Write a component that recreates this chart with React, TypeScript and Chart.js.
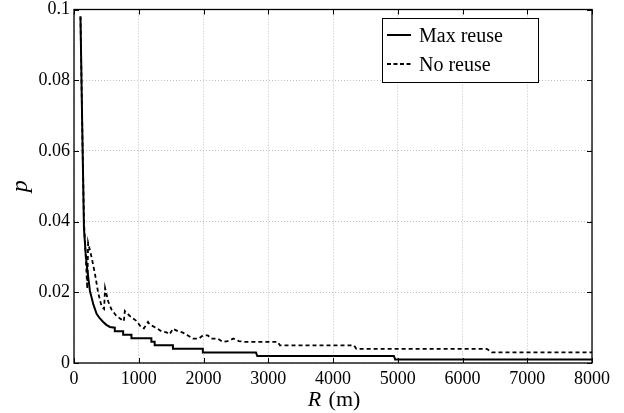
import React, { useEffect, useRef } from "react";
import { Chart, registerables } from "chart.js";

Chart.register(...registerables);

// Max reuse (solid)
const maxReuseR = [100, 128, 154, 180, 195, 246, 300, 349, 400, 451, 500, 554, 630, 630, 759, 759, 887, 887, 1195, 1195, 1246, 1246, 1528, 1528, 1990, 1990, 2810, 2830, 4940, 4960, 8000];
const maxReuseP = [0.098, 0.066, 0.038, 0.031, 0.028, 0.0204, 0.0165, 0.0139, 0.0126, 0.0116, 0.0108, 0.0102, 0.0100, 0.009, 0.009, 0.008, 0.008, 0.007, 0.007, 0.006, 0.006, 0.005, 0.005, 0.004, 0.004, 0.003, 0.003, 0.002, 0.002, 0.001, 0.001];

// No reuse (dashed)
const noReuseR = [100, 128, 154, 170, 185, 205, 218, 272, 323, 374, 426, 465, 480, 528, 580, 656, 733, 770, 785, 862, 964, 1041, 1080, 1143, 1169, 1272, 1349, 1426, 1477, 1528, 1605, 1682, 1759, 1836, 1928, 1990, 2067, 2118, 2220, 2297, 2374, 2462, 2543, 2631, 3143, 3180, 4323, 4360, 6374, 6450, 8000];
const noReuseP = [0.098, 0.066, 0.040, 0.034, 0.029, 0.021, 0.034, 0.0299, 0.0253, 0.0198, 0.016, 0.0153, 0.0212, 0.0174, 0.0151, 0.0133, 0.0123, 0.0118, 0.0147, 0.0133, 0.0119, 0.01, 0.0098, 0.0116, 0.0109, 0.0099, 0.009, 0.0087, 0.0081, 0.0097, 0.009, 0.0086, 0.0078, 0.0069, 0.0069, 0.0078, 0.0078, 0.0069, 0.0069, 0.006, 0.0062, 0.0069, 0.0062, 0.006, 0.006, 0.005, 0.005, 0.004, 0.004, 0.003, 0.003];

const xTicks = [0, 1000, 2000, 3000, 4000, 5000, 6000, 7000, 8000];
const yTicks = [0, 0.02, 0.04, 0.06, 0.08, 0.1];
const seriesNames = ["Max reuse", "No reuse"];

const SERIF = "'Liberation Serif', 'Times New Roman', serif";

const decorPlugin = {
  id: "decor",
  afterDraw(chart: any) {
    const { ctx, chartArea } = chart;
    const { left, right, top, bottom } = chartArea;
    const xs = chart.scales.x;
    const ys = chart.scales.y;
    ctx.save();
    // frame
    ctx.strokeStyle = "#000";
    ctx.lineWidth = 1.3;
    ctx.setLineDash([]);
    ctx.strokeRect(left, top, right - left, bottom - top);
    // inner ticks
    ctx.lineWidth = 1;
    ctx.beginPath();
    xTicks.forEach((v) => {
      const px = Math.round(xs.getPixelForValue(v)) + 0.5;
      ctx.moveTo(px, bottom);
      ctx.lineTo(px, bottom - 5);
      ctx.moveTo(px, top);
      ctx.lineTo(px, top + 5);
    });
    yTicks.forEach((v) => {
      const py = Math.round(ys.getPixelForValue(v)) + 0.5;
      ctx.moveTo(left, py);
      ctx.lineTo(left + 5, py);
      ctx.moveTo(right, py);
      ctx.lineTo(right - 5, py);
    });
    ctx.stroke();

    // axis titles
    ctx.fillStyle = "#000";
    ctx.textBaseline = "alphabetic";
    ctx.font = `italic 22px ${SERIF}`;
    const rW = ctx.measureText("R").width;
    ctx.font = `22px ${SERIF}`;
    const mW = ctx.measureText(" (m)").width;
    const cx = (left + right) / 2 + 0;
    const startX = cx - (rW + mW) / 2;
    ctx.font = `italic 22px ${SERIF}`;
    ctx.textAlign = "left";
    ctx.fillText("R", startX, 406);
    ctx.font = `22px ${SERIF}`;
    ctx.fillText(" (m)", startX + rW + 2, 406);

    ctx.save();
    ctx.translate(27, (top + bottom) / 2);
    ctx.rotate(-Math.PI / 2);
    ctx.font = `italic 24px ${SERIF}`;
    ctx.textAlign = "center";
    ctx.fillText("p", 0, 0);
    ctx.restore();

    // legend
    const lx = 382, ly = 18, lw = 156, lh = 64;
    ctx.fillStyle = "#fff";
    ctx.fillRect(lx, ly, lw, lh);
    ctx.strokeStyle = "#000";
    ctx.lineWidth = 1;
    ctx.strokeRect(lx + 0.5, ly + 0.5, lw, lh);
    ctx.font = `20px ${SERIF}`;
    ctx.fillStyle = "#000";
    ctx.textAlign = "left";
    const rows = [35, 64];
    const dashes = [[], [4, 2.5]];
    rows.forEach((y, i) => {
      ctx.beginPath();
      ctx.setLineDash(dashes[i]);
      ctx.lineWidth = i === 0 ? 2 : 1.8;
      ctx.moveTo(387, y);
      ctx.lineTo(411, y);
      ctx.stroke();
      ctx.setLineDash([]);
      ctx.fillText(seriesNames[i], 419, y + 7);
    });
    ctx.restore();
  },
};

export default function App() {
  const ref = useRef<HTMLCanvasElement | null>(null);
  useEffect(() => {
    if (!ref.current) return;
    const maxData = maxReuseR.map((r, i) => ({ x: r, y: maxReuseP[i] }));
    const noData = noReuseR.map((r, i) => ({ x: r, y: noReuseP[i] }));
    const chart = new Chart(ref.current, {
      type: "line",
      data: {
        datasets: [
          {
            label: seriesNames[1],
            data: noData,
            borderColor: "#000",
            borderWidth: 1.8,
            borderDash: [4, 3],
            pointRadius: 0,
            tension: 0,
            fill: false,
          },
          {
            label: seriesNames[0],
            data: maxData,
            borderColor: "#000",
            borderWidth: 2,
            pointRadius: 0,
            tension: 0,
            fill: false,
          },
        ],
      },
      options: {
        responsive: false,
        animation: false,
        devicePixelRatio: 1,
        layout: { padding: { top: 9.5, right: 32, left: 0, bottom: 0 } },
        plugins: { legend: { display: false }, tooltip: { enabled: false } },
        scales: {
          x: {
            type: "linear",
            min: 0,
            max: 8000,
            afterBuildTicks: (s: any) => {
              s.ticks = xTicks.map((v) => ({ value: v }));
            },
            afterFit: (s: any) => {
              s.height = 50;
              s.paddingLeft = 0;
              s.paddingRight = 0;
            },
            grid: { color: "#c0c0c0", lineWidth: 1, drawTicks: false },
            border: { display: false, dash: [1, 2] },
            ticks: {
              padding: 5,
              color: "#000",
              font: { family: SERIF, size: 18 },
              maxRotation: 0,
              callback: (v: any) => String(v),
            },
          },
          y: {
            type: "linear",
            min: 0,
            max: 0.1,
            afterBuildTicks: (s: any) => {
              s.ticks = yTicks.map((v) => ({ value: v }));
            },
            afterFit: (s: any) => {
              s.width = 74;
              s.paddingTop = 0;
              s.paddingBottom = 0;
            },
            grid: { color: "#c0c0c0", lineWidth: 1, drawTicks: false },
            border: { display: false, dash: [1, 2] },
            ticks: {
              padding: 4,
              color: "#000",
              font: { family: SERIF, size: 18 },
              callback: (v: any) => String(Math.round(v * 100) / 100),
            },
          },
        },
      },
      plugins: [decorPlugin],
    });
    return () => chart.destroy();
  }, []);
  return (
    <div style={{ position: "fixed", left: 0, top: 0, width: 624, height: 413, background: "#fff" }}>
      <canvas ref={ref} width={624} height={413} style={{ width: 624, height: 413 }} />
    </div>
  );
}
